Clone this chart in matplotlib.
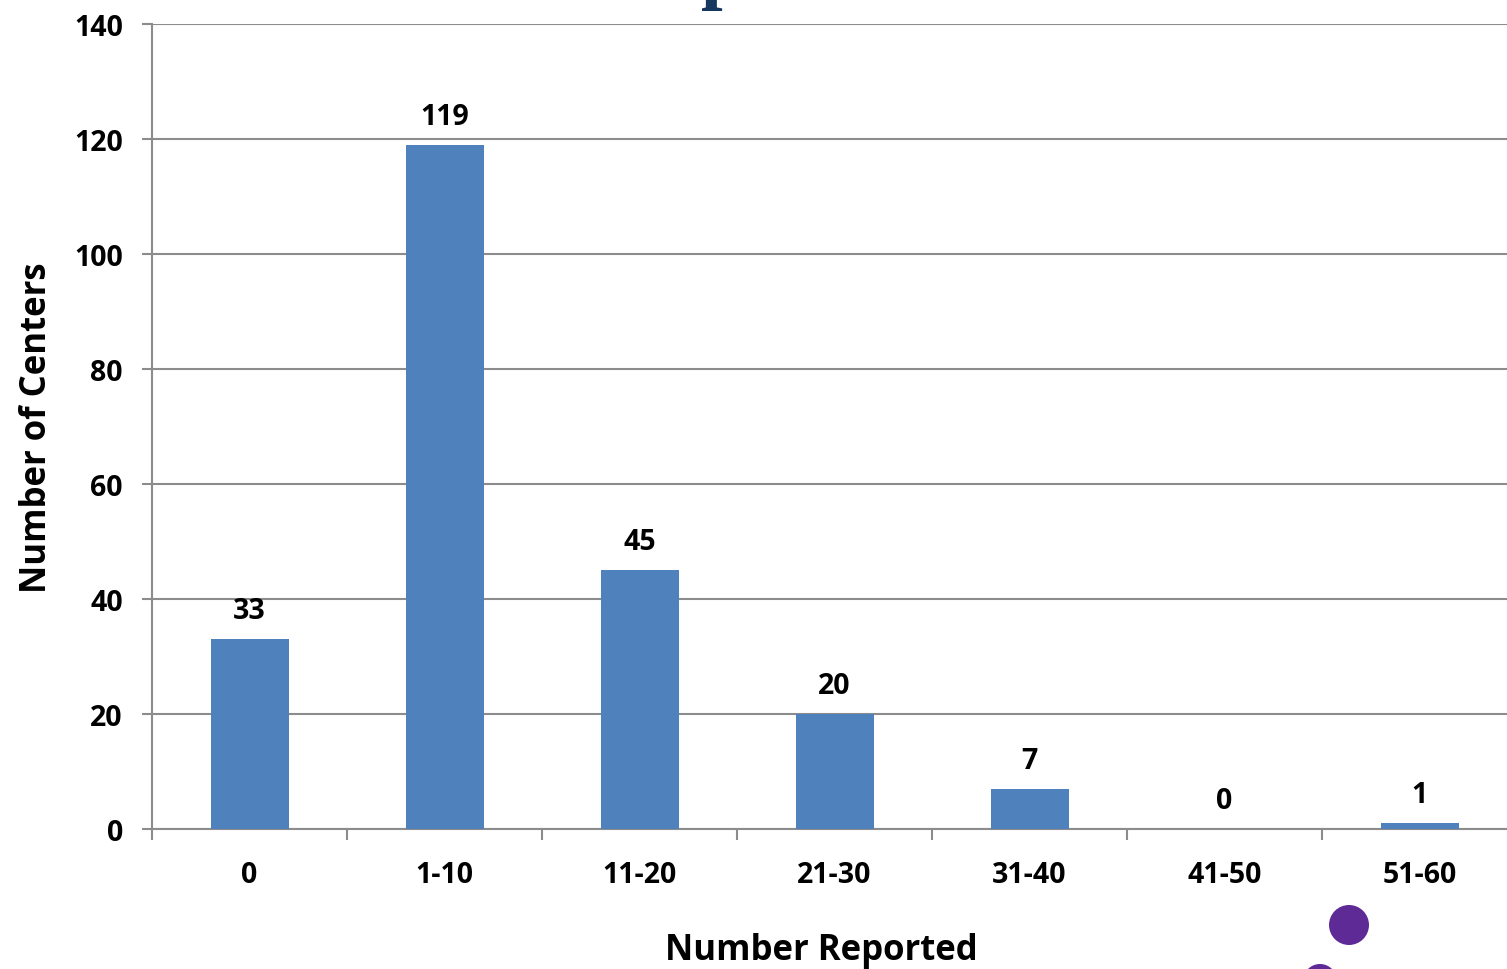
import matplotlib
matplotlib.use("Agg")
import matplotlib.pyplot as plt
from matplotlib.patches import Ellipse
import numpy as np

categories = ["0", "1-10", "11-20", "21-30", "31-40", "41-50", "51-60"]
counts = [33, 119, 45, 20, 7, 0, 1]
yticks = [0, 20, 40, 60, 80, 100, 120, 140]

FONT = "Open Sans"
W, H = 1507, 970
fig = plt.figure(figsize=(W / 100, H / 100), dpi=100)
fig.patch.set_facecolor("white")

left, right, top, bottom = 152, 1517, 25, 830
ax = fig.add_axes([left / W, (H - bottom) / H, (right - left) / W, (bottom - top) / H])

x = np.arange(len(categories))
bars = ax.bar(x, counts, width=0.4, color="#4F81BD", zorder=3)

ax.set_xlim(-0.5, len(categories) - 0.5)
ax.set_ylim(0, 140)

grid_c = "#8C8C8C"
ax.set_yticks(yticks)
ax.set_yticklabels([str(t) for t in yticks], fontsize=20.5, fontweight="bold", family=FONT)
ax.yaxis.grid(True, color=grid_c, linewidth=1.5, zorder=0)
ax.tick_params(axis="y", length=7, width=1.5, color=grid_c, pad=14)

ax.set_xticks(x)
ax.set_xticklabels(categories, fontsize=20.5, fontweight="bold", family=FONT)
ax.tick_params(axis="x", which="major", length=0, pad=22)
ax.set_xticks(np.arange(-0.5, len(categories)), minor=True)
ax.tick_params(axis="x", which="minor", length=8, width=1.5, color=grid_c)

for s in ["top", "right"]:
    ax.spines[s].set_visible(False)
for s in ["left", "bottom"]:
    ax.spines[s].set_color(grid_c)
    ax.spines[s].set_linewidth(1.5)

for xi, v in zip(x, counts):
    ax.annotate(str(v), (xi, v), xytext=(0, 10), textcoords="offset points",
                ha="center", va="bottom", fontsize=20.5, fontweight="bold", family=FONT)

ax.set_ylabel("Number of Centers", fontsize=25, fontweight="bold", family=FONT, labelpad=14)
fig.text(821 / W, 1 - 951 / H, "Number Reported", ha="center", va="center",
         fontsize=25, fontweight="bold", family=FONT)

# cut-off title fragment at top
fig.text(723 / W, 1.0 + 6 / H, "p", ha="center", va="baseline", fontsize=56,
         fontweight="bold", family="Liberation Serif", color="#17375E")

# logo fragment bottom right
for cx, cy, r in [(1349, 926, 20), (1320, 982, 17)]:
    fig.patches.append(Ellipse((cx / W, 1 - cy / H), 2 * r / W, 2 * r / H,
                               transform=fig.transFigure,
                               facecolor="#5E2A96", edgecolor="none"))

fig.savefig("out.png", dpi=100)
